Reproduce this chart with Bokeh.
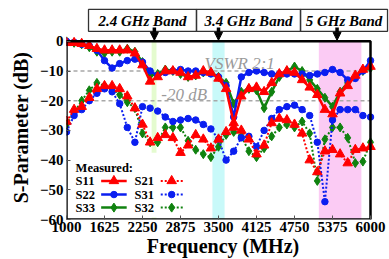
from bokeh.plotting import figure
from bokeh.models import Range1d, FixedTicker, Label, Arrow, NormalHead
from bokeh.core.properties import value
from bokeh.embed import file_html
from bokeh.resources import INLINE

# ---------------- data ----------------
freq = [1000, 1125, 1250, 1375, 1500, 1625, 1750, 1875, 2000, 2125, 2250, 2375, 2500, 2625,
        2750, 2875, 3000, 3125, 3250, 3375, 3500, 3625, 3750, 3875, 4000, 4125, 4250, 4375,
        4500, 4625, 4750, 4875, 5000, 5125, 5250, 5375, 5500, 5625, 5750, 5875, 6000]

s11 = [-0.5, -0.5, -0.8, -1.5, -2.5, -3, -3, -3, -3, -4, -8, -13.5, -12, -10,
       -10, -10.5, -12, -11.5, -10, -10.5, -12.5, -16, -27.5, -18.5, -16, -15.5, -17, -14,
       -11, -10, -10.5, -13, -15.5, -18, -23, -24.5, -17.5, -15, -11.5, -9.5, -8.5]
s22 = [0, -0.3, -1, -1.5, -3, -6.5, -9, -7.5, -6.5, -6, -7, -10, -11.5, -10.5,
       -10, -9.5, -10, -10, -10.5, -11, -12, -15, -25.5, -12, -10.5, -10, -10.5, -11,
       -11, -11, -11, -11, -11.5, -11, -10.5, -9.5, -10.5, -13, -12.5, -10, -6.5]
s33 = [0, -0.5, -1, -2, -3.5, -4, -3.5, -3.5, -2.5, -3.5, -7, -11.5, -11, -9.5,
       -10, -11, -12, -11.5, -10.5, -10.5, -12, -14, -21, -17, -16, -16.5, -22.5, -17,
       -12, -10, -8.5, -10, -13, -16, -19, -22, -17, -14, -12, -10, -9]
s21 = [-27, -23, -22, -19, -16, -15, -15, -16, -18.5, -22.5, -28, -34, -32.5, -31.5,
       -32.5, -37.5, -35, -31.5, -33, -36, -33, -30.5, -29, -30, -33, -38, -35, -27.5,
       -26, -26.5, -28, -31, -40, -44, -37, -36.5, -38, -41, -36.5, -36, -35.5]
s31 = [-30.5, -25, -23, -20, -17.5, -16, -17, -21, -29, -34, -22, -22.5, -23.5, -25.5,
       -27, -26.5, -26, -26.5, -28, -29.5, -33, -40, -37, -32.5, -32, -35.5, -30, -26,
       -23, -22, -21.5, -23, -25, -34, -54, -26.5, -23, -23, -23, -25, -25.5]
s32 = [-28, -24, -20, -16.5, -14, -15, -16, -18, -20.5, -22.5, -31, -34, -34, -29,
       -29, -29, -33.5, -36.5, -38, -39, -35.5, -31.5, -30.5, -32, -37, -39, -36, -32,
       -29, -28, -29, -27, -31, -47, -33, -29, -29, -32.5, -41, -40.5, -34]

x_ticks = [1000, 1625, 2250, 2875, 3500, 4125, 4750, 5375, 6000]
y_ticks = [0, -10, -20, -30, -40, -50, -60]
X_MIN, X_MAX, Y_MIN, Y_MAX = 1000, 6000, -60, 0

band_lo = [2400, 3400, 5150]
band_hi = [2480, 3600, 5850]
band_colors = ["#E4FBCF", "#C8F9F9", "#FBCBF4"]
band_names = ["2.4 GHz Band", "3.4 GHz Band", "5 GHz Band"]
band_box_lo = [1362, 3138, 4849]
band_box_hi = [3138, 4849, 6280]
arrow_x = [2445, 3500, 5450]
ref_levels = [-10, -20]

SERIF = "Liberation Serif"
W, H = 389, 259
LEFT, BOTTOM = 66, 39
PLOT_RIGHT_PX, PLOT_TOP_PX = 370, 41   # where 6000 MHz and 0 dB sit on the canvas

px_per_mhz = (PLOT_RIGHT_PX - LEFT) / (X_MAX - X_MIN)
px_per_db = (H - BOTTOM - PLOT_TOP_PX) / (Y_MAX - Y_MIN)
x_end = X_MAX + (W - PLOT_RIGHT_PX) / px_per_mhz
y_end = Y_MAX + PLOT_TOP_PX / px_per_db

def ypx(px_from_top):
    """canvas pixel row (from top) -> data y, for the header strip"""
    return Y_MAX + (PLOT_TOP_PX - px_from_top) / px_per_db

p = figure(width=W, height=H, x_range=Range1d(X_MIN, x_end), y_range=Range1d(Y_MIN, y_end),
           output_backend="svg", toolbar_location=None,
           min_border_left=LEFT, min_border_right=0, min_border_top=0, min_border_bottom=BOTTOM)
p.background_fill_color = "white"
p.border_fill_color = "white"
p.outline_line_color = None
p.xgrid.visible = False
p.ygrid.visible = False

p.xaxis.ticker = FixedTicker(ticks=x_ticks)
p.yaxis.ticker = FixedTicker(ticks=y_ticks)
for ax in (p.xaxis[0], p.yaxis[0]):
    ax.axis_line_color = None
    ax.major_tick_in = 4
    ax.major_tick_out = 0
    ax.minor_tick_in = 0
    ax.minor_tick_out = 0
    ax.major_tick_line_color = "#555555"
    ax.major_label_text_font = SERIF
    ax.major_label_text_font_style = "bold"
    ax.major_label_text_font_size = "15px"
    ax.major_label_text_color = "black"
    ax.axis_label_text_font = SERIF
    ax.axis_label_text_font_style = "bold"
    ax.axis_label_text_color = "black"
p.xaxis.major_label_standoff = 2
p.yaxis.major_label_standoff = 3
NB = "\u00a0"
p.xaxis.axis_label = "Frequency (MHz)" + NB * 2
p.xaxis.axis_label_text_font_size = "20px"
p.xaxis.axis_label_standoff = 0
p.yaxis.axis_label = "S-Parameter (dB)" + NB * 7
p.yaxis.axis_label_text_font_size = "20px"
p.yaxis.axis_label_standoff = 5

# bands
p.quad(left=band_lo, right=band_hi, bottom=Y_MIN, top=Y_MAX, fill_color=band_colors, line_color=None)
# reference lines
p.segment(x0=X_MIN, x1=X_MAX, y0=ref_levels, y1=ref_levels,
          line_color="#A8A8A8", line_width=1.6, line_dash="4 3")

# legend background
p.quad(left=[1030], right=[2960], bottom=[-59.3], top=[-37.5], fill_color="white", line_color=None)

RED, BLUE, GREEN = "#FF0000", "#0A1EF0", "#10820F"
DOT = "2 2"

# dotted transmission curves
p.line(freq, s32, line_color=GREEN, line_width=2, line_dash=DOT)
p.scatter(freq, s32, marker="diamond", size=9, color=GREEN)
p.line(freq, s31, line_color=BLUE, line_width=2, line_dash=DOT)
p.scatter(freq, s31, marker="circle", size=6.5, color=BLUE)
p.line(freq, s21, line_color=RED, line_width=2, line_dash=DOT)
p.scatter(freq, s21, marker="triangle", size=9.5, color=RED)

# solid reflection curves
p.line(freq, s33, line_color=GREEN, line_width=2.5)
p.scatter(freq, s33, marker="diamond", size=9, color=GREEN)
p.line(freq, s22, line_color=BLUE, line_width=2.5)
p.scatter(freq, s22, marker="circle", size=6.5, color=BLUE)
p.line(freq, s11, line_color=RED, line_width=2.5)
p.scatter(freq, s11, marker="triangle", size=9.5, color=RED)

# plot border
p.quad(left=[X_MIN], right=[X_MAX], bottom=[Y_MIN], top=[Y_MAX], fill_color=None,
       line_color="black", line_width=2.5)

# reference labels
p.add_layout(Label(x=3270, y=-7.6, text="VSWR 2:1", text_font=SERIF, text_font_style="italic",
                   text_font_size="17px", text_color="#9A9A9A", text_baseline="middle"))
p.add_layout(Label(x=2560, y=-17.8, text="-20 dB", text_font=SERIF, text_font_style="italic",
                   text_font_size="17px", text_color="#9A9A9A", text_baseline="middle"))

# legend
LEG_FONT = "12.5px"
p.text(x=[1150], y=[-42.6], text=["Measured:"], text_font=value(SERIF), text_font_style="bold",
       text_font_size=LEG_FONT, text_baseline="middle")
rows_y = [-47, -51.6, -56]
col1 = [("S11", RED, "triangle", 9.5), ("S22", BLUE, "circle", 6.5), ("S33", GREEN, "diamond", 9)]
col2 = [("S21", RED, "triangle", 9.5), ("S31", BLUE, "circle", 6.5), ("S32", GREEN, "diamond", 9)]
for yy, (nm, c, mk, sz) in zip(rows_y, col1):
    p.text(x=[1150], y=[yy], text=[nm], text_font=value(SERIF), text_font_style="bold",
           text_font_size=LEG_FONT, text_baseline="middle")
    p.line([1570, 1990], [yy, yy], line_color=c, line_width=2.5)
    p.scatter([1780], [yy], marker=mk, size=sz, color=c)
for yy, (nm, c, mk, sz) in zip(rows_y, col2):
    p.text(x=[2120], y=[yy], text=[nm], text_font=value(SERIF), text_font_style="bold",
           text_font_size=LEG_FONT, text_baseline="middle")
    p.line([2550, 2920], [yy, yy], line_color=c, line_width=2, line_dash=DOT)
    p.scatter([2730], [yy], marker=mk, size=sz, color=c)

# header: band name boxes and arrows (above the plot box)
p.quad(left=band_box_lo, right=band_box_hi, top=ypx(9), bottom=ypx(31),
       fill_color=None, line_color="#333333", line_width=1.3)
p.text(x=[(a + b) / 2 for a, b in zip(band_box_lo, band_box_hi)], y=ypx(20.5), text=band_names,
       text_font=value(SERIF), text_font_style="bold italic", text_font_size="15px",
       text_align="center", text_baseline="middle", text_color="black")
for ax_x in arrow_x:
    p.add_layout(Arrow(end=NormalHead(size=8, fill_color="black", line_color="black"),
                       x_start=ax_x, y_start=ypx(27), x_end=ax_x, y_end=ypx(40),
                       line_width=3.5, line_color="black"))

open("out.html", "w").write(file_html(p, INLINE))
